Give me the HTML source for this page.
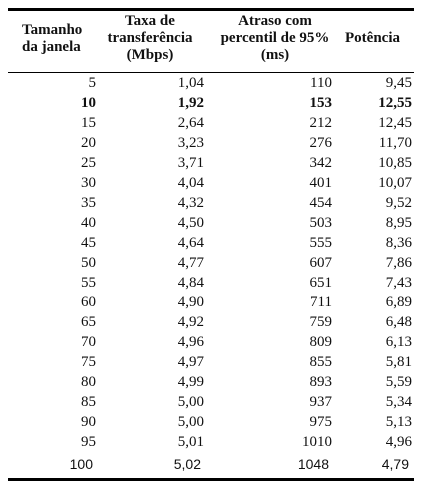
<!DOCTYPE html>
<html><head><meta charset="utf-8"><style>
body{margin:0;width:421px;height:490px;background:#fff;position:relative;overflow:hidden;font-family:"Liberation Serif",serif;color:#111;font-size:15px}
.r{position:absolute;height:2.6px;background:#000;left:8px;width:406px}
.t{position:absolute;line-height:17px;font-weight:bold}
.c{position:absolute;white-space:nowrap;text-align:right;line-height:20px}
</style></head><body>
<div class="r" style="top:8px"></div>
<div class="r" style="top:71.5px;height:1.2px"></div>
<div class="r" style="top:478px"></div>
<div class="t" style="left:22px;top:22px">Tamanho<br>da janela</div>
<div class="t" style="left:100px;width:100px;text-align:center;top:13px">Taxa de<br>transferência<br>(Mbps)</div>
<div class="t" style="left:210px;width:130px;text-align:center;top:13px">Atraso com<br>percentil de 95%<br>(ms)</div>
<div class="t" style="left:345px;top:30px">Potência</div>
<div id="rows"></div>
<script>
const windowSizes=[5,10,15,20,25,30,35,40,45,50,55,60,65,70,75,80,85,90,95,100];
const throughput=["1,04","1,92","2,64","3,23","3,71","4,04","4,32","4,50","4,64","4,77","4,84","4,90","4,92","4,96","4,97","4,99","5,00","5,00","5,01","5,02"];
const delay=[110,153,212,276,342,401,454,503,555,607,651,711,759,809,855,893,937,975,1010,1048];
const power=["9,45","12,55","12,45","11,70","10,85","10,07","9,52","8,95","8,36","7,86","7,43","6,89","6,48","6,13","5,81","5,59","5,34","5,13","4,96","4,79"];
const rights=[325,217,89,9];
const host=document.getElementById('rows');
windowSizes.forEach((w,i)=>{
  const vals=[w,throughput[i],delay[i],power[i]];
  const last=i===windowSizes.length-1;
  vals.forEach((v,j)=>{
    const d=document.createElement('div');
    d.className='c';
    
    
    d.textContent=v;
    d.style.right=(rights[j]+(last?3:0))+'px';
    d.style.top=(73+i*19.95+(last?2:0))+'px';
    if(i===1)d.style.fontWeight='bold';
    if(last)d.style.fontFamily='"Liberation Sans",sans-serif';
    if(last)d.style.fontSize='14px';
    host.appendChild(d);
  });
});
</script>
</body></html>
